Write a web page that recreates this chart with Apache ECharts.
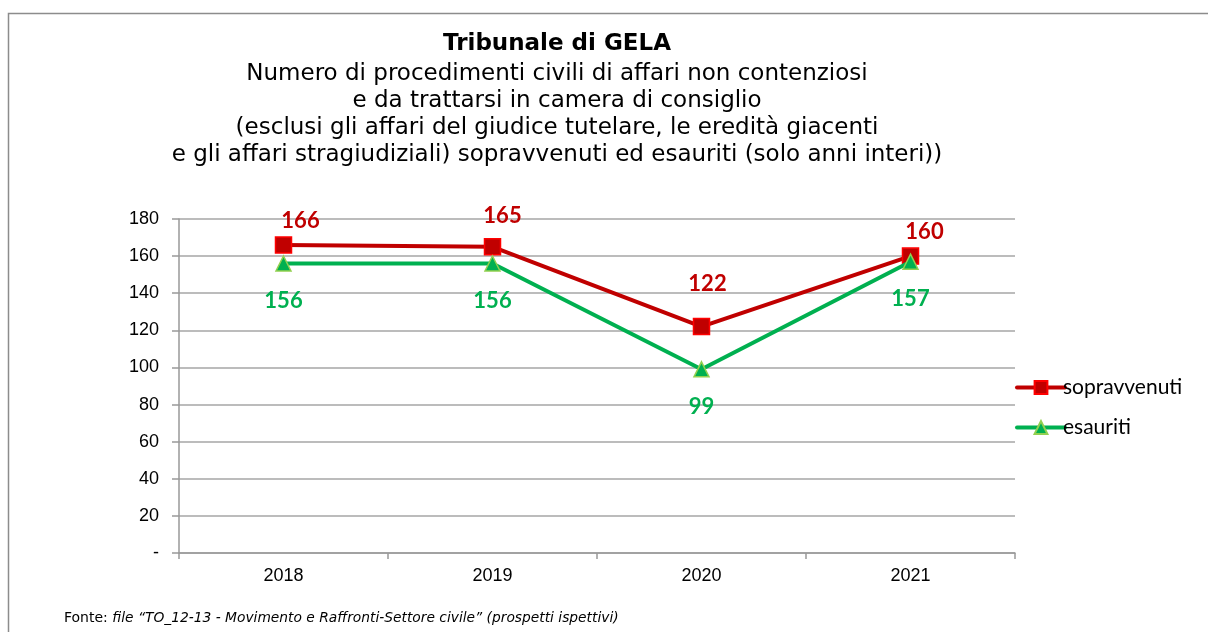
<!DOCTYPE html>
<html>
<head>
<meta charset="utf-8">
<script src="https://cdn.jsdelivr.net/npm/echarts@6/dist/echarts.min.js"></script>
<style>
html, body { margin: 0; padding: 0; background: #fff; }
#chart { width: 1208px; height: 632px; }
</style>
</head>
<body>
<div id="chart"></div>
<script>
var years = ['2018', '2019', '2020', '2021'];
var sopravvenuti = [166, 165, 122, 160];
var esauriti = [156, 156, 99, 157];

var titleLines = [
    'Numero di procedimenti civili di affari non contenziosi',
    'e da trattarsi in camera di consiglio',
    '(esclusi gli affari del giudice tutelare, le eredità giacenti',
    'e gli affari stragiudiziali) sopravvenuti ed esauriti (solo anni interi))'
];

// label nudges, as in the original excel sheet
var redNudge = [[17, 0], [10, -7], [6, -19], [14, 0]];

var myChart = echarts.init(document.getElementById('chart'));

var redData = [];
for (var i = 0; i < sopravvenuti.length; i++) {
    redData.push({
        value: sopravvenuti[i],
        label: { offset: redNudge[i] }
    });
}

var option = {
    animation: false,
    textStyle: { fontFamily: 'Liberation Sans' },
    graphic: [
        {
            type: 'polyline',
            shape: { points: [[8.5, 700], [8.5, 13.5], [1208, 13.5]] },
            style: { fill: 'none', stroke: '#8c8c8c', lineWidth: 1.5 }
        },
        {
            type: 'text',
            x: 557, y: 33,
            style: {
                text: 'Tribunale di GELA',
                font: 'bold 23px "DejaVu Sans"',
                fill: '#000',
                textAlign: 'center'
            }
        },
        {
            type: 'text',
            x: 557, y: 61,
            style: {
                text: titleLines.join('\n'),
                font: '23px "DejaVu Sans"',
                lineHeight: 27,
                fill: '#000',
                textAlign: 'center'
            }
        },
        {
            type: 'text',
            x: 64, y: 611,
            style: {
                rich: {
                    n: { font: '14px "DejaVu Sans"', fill: '#000' },
                    i: { font: 'italic 13.8px "DejaVu Sans"', fill: '#000' }
                },
                text: '{n|Fonte: }{i|file \u201cTO_12-13 - Movimento e Raffronti-Settore civile\u201d (prospetti ispettivi)}'
            }
        }
    ],
    legend: {
        orient: 'vertical',
        left: 1010,
        top: 372,
        itemWidth: 48,
        itemHeight: 16,
        itemGap: 19,
        lineStyle: { width: 4, cap: 'round' },
        textStyle: { fontFamily: 'Lato', fontSize: 21, color: '#000', padding: [0, 0, 0, -7] },
        data: ['sopravvenuti', 'esauriti']
    },
    grid: { left: 179, right: 193, top: 219, bottom: 79 },
    xAxis: {
        type: 'category',
        data: years,
        boundaryGap: true,
        axisLine: { lineStyle: { color: '#999', width: 1.5 } },
        axisTick: { show: true, length: 6, lineStyle: { color: '#999', width: 1.5 } },
        axisLabel: { color: '#000', fontSize: 18, margin: 14 }
    },
    yAxis: {
        type: 'value',
        min: 0,
        max: 180,
        interval: 20,
        axisLine: { show: true, lineStyle: { color: '#999', width: 1.5 } },
        axisTick: { show: true, length: 7, lineStyle: { color: '#999', width: 1.5 } },
        splitLine: { lineStyle: { color: '#a6a6a6', width: 1.5 } },
        axisLabel: {
            color: '#000', fontSize: 18, margin: 20,
            formatter: function (v) { return v === 0 ? '-' : v; }
        }
    },
    series: [
        {
            name: 'sopravvenuti',
            type: 'line',
            data: redData,
            symbol: 'rect',
            symbolSize: 16,
            lineStyle: { color: '#c00000', width: 4 },
            itemStyle: { color: '#c00000', borderColor: '#ff0000', borderWidth: 1.5 },
            label: {
                show: true,
                position: 'top',
                distance: 4,
                color: '#c00000',
                fontFamily: 'Lato',
                fontWeight: 'bold',
                fontSize: 22
            },
            z: 3
        },
        {
            name: 'esauriti',
            type: 'line',
            data: esauriti,
            symbol: 'triangle',
            symbolSize: 15,
            lineStyle: { color: '#00b050', width: 4 },
            itemStyle: { color: '#00b050', borderColor: '#92d050', borderWidth: 1.5 },
            label: {
                show: true,
                position: 'bottom',
                distance: 18,
                color: '#00b050',
                fontFamily: 'Lato',
                fontWeight: 'bold',
                fontSize: 22
            },
            z: 4
        }
    ]
};

myChart.setOption(option);
</script>
</body>
</html>
